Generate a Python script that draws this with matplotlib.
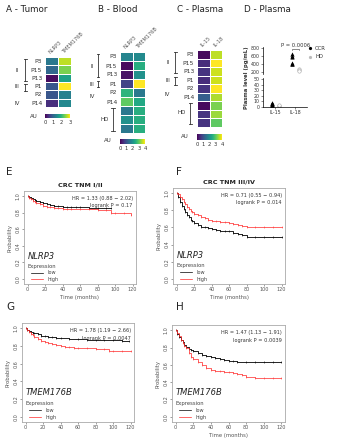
import numpy as np
import matplotlib
matplotlib.use("Agg")
import matplotlib.pyplot as plt
from matplotlib.lines import Line2D

# ---------------- DATA ----------------
rows_A = ["P3", "P15", "P13", "P1", "P2", "P14"]
cols_A = ["NLRP3", "TMEM176B"]
nlrp3_A = [1.2, 1.0, 0.1, 0.8, 0.8, 0.4]
tmem_A = [2.7, 2.4, 1.7, 3.0, 1.3, 1.4]

rows_B = ["P3", "P15", "P13", "P1", "P2", "P14", "", "", ""]
cols_B = ["NLRP3", "TMEM176B"]
nlrp3_B = [1.8, 0.1, 0.2, 0.8, 2.6, 3.0, 1.6, 2.0, 1.6]
tmem_B = [1.9, 2.5, 2.0, 4.0, 1.6, 2.4, 2.5, 2.5, 2.5]

rows_C = ["P3", "P15", "P13", "P1", "P2", "P14", "", "", ""]
cols_C = ["IL-15", "IL-18"]
il15_C = [0.1, 0.5, 0.6, 0.5, 0.6, 1.2, 0.1, 0.6, 0.6]
il18_C = [3.6, 4.0, 3.7, 3.7, 4.0, 3.5, 3.2, 3.4, 3.0]

d_ccr_il15 = [3, 4, 5, 6, 7, 8]
d_hd_il15 = [1, 2, 3]
d_ccr_il18 = [640, 600, 580, 430, 410, 400]
d_hd_il18 = [280, 250, 230]

E_low_t = [0, 2, 4, 6, 8, 10, 14, 18, 22, 26, 30, 35, 40, 45, 50, 55, 60, 70, 80, 90, 95]
E_low_s = [1.0, 0.985, 0.97, 0.96, 0.95, 0.94, 0.925, 0.91, 0.9, 0.89, 0.882, 0.875, 0.87, 0.867, 0.865, 0.863, 0.862, 0.86, 0.86, 0.86, 0.86]
E_high_t = [0, 2, 4, 6, 8, 10, 14, 18, 22, 26, 30, 35, 40, 45, 50, 60, 70, 80, 90, 95, 100, 110, 118]
E_high_s = [1.0, 0.98, 0.96, 0.945, 0.93, 0.92, 0.9, 0.885, 0.872, 0.862, 0.856, 0.85, 0.847, 0.845, 0.842, 0.84, 0.838, 0.835, 0.833, 0.79, 0.79, 0.79, 0.765]

F_low_t = [0, 2, 4, 6, 8, 10, 12, 14, 16, 18, 20, 24, 28, 32, 36, 40, 45, 50, 55, 60, 65, 70, 75, 80, 90, 100, 110, 120]
F_low_s = [1.0, 0.96, 0.9, 0.85, 0.81, 0.78, 0.75, 0.72, 0.69, 0.67, 0.655, 0.63, 0.61, 0.6, 0.59, 0.58, 0.57, 0.56, 0.558, 0.556, 0.54, 0.527, 0.51, 0.49, 0.49, 0.49, 0.49, 0.49]
F_high_t = [0, 2, 4, 6, 8, 10, 12, 14, 16, 18, 20, 24, 28, 32, 36, 40, 45, 50, 55, 60, 65, 70, 75, 80, 90, 100, 110, 120]
F_high_s = [1.0, 0.99, 0.96, 0.93, 0.9, 0.87, 0.84, 0.81, 0.79, 0.775, 0.76, 0.74, 0.72, 0.705, 0.69, 0.68, 0.672, 0.665, 0.66, 0.655, 0.645, 0.63, 0.62, 0.607, 0.6, 0.6, 0.6, 0.6]

G_low_t = [0, 2, 4, 6, 8, 10, 14, 18, 22, 26, 30, 35, 40, 50, 60, 70, 80, 90, 100, 110, 118]
G_low_s = [1.0, 0.985, 0.97, 0.96, 0.95, 0.943, 0.93, 0.918, 0.91, 0.903, 0.897, 0.892, 0.887, 0.88, 0.875, 0.871, 0.868, 0.866, 0.864, 0.862, 0.86]
G_high_t = [0, 2, 4, 6, 8, 10, 14, 18, 22, 26, 30, 35, 40, 45, 50, 55, 60, 70, 80, 90, 95, 100, 110, 120]
G_high_s = [1.0, 0.98, 0.96, 0.94, 0.92, 0.906, 0.88, 0.858, 0.845, 0.832, 0.82, 0.81, 0.8, 0.792, 0.785, 0.78, 0.777, 0.772, 0.77, 0.766, 0.747, 0.747, 0.747, 0.747]

H_low_t = [0, 2, 4, 6, 8, 10, 12, 15, 18, 20, 25, 30, 35, 40, 45, 50, 55, 60, 65, 70, 80, 90, 100, 110, 120]
H_low_s = [1.0, 0.96, 0.92, 0.89, 0.86, 0.833, 0.81, 0.785, 0.77, 0.76, 0.735, 0.715, 0.698, 0.685, 0.675, 0.667, 0.657, 0.648, 0.64, 0.633, 0.632, 0.631, 0.63, 0.63, 0.63]
H_high_t = [0, 2, 4, 6, 8, 10, 12, 15, 18, 20, 25, 30, 35, 40, 45, 50, 55, 60, 65, 70, 75, 80, 90, 100, 110, 120]
H_high_s = [1.0, 0.97, 0.93, 0.89, 0.85, 0.815, 0.79, 0.74, 0.69, 0.667, 0.63, 0.593, 0.56, 0.537, 0.53, 0.526, 0.523, 0.52, 0.51, 0.5, 0.48, 0.456, 0.444, 0.444, 0.444, 0.444]

km_text = {
    "E": ("HR = 1.33 (0.88 \u2212 2.02)", "logrank P = 0.17", "NLRP3", "CRC TNM I/II"),
    "F": ("HR = 0.71 (0.55 \u2212 0.94)", "logrank P = 0.014", "NLRP3", "CRC TNM III/IV"),
    "G": ("HR = 1.78 (1.19 \u2212 2.66)", "logrank P = 0.0047", "TMEM176B", ""),
    "H": ("HR = 1.47 (1.13 \u2212 1.91)", "logrank P = 0.0039", "TMEM176B", ""),
}

# ---------------- LAYOUT ----------------
W, H = 339, 440
fig = plt.figure(figsize=(W / 100, H / 100), dpi=100)
fig.patch.set_facecolor("white")
plt.rcParams["font.family"] = ["DejaVu Sans"]
GREY = "#333333"


def box(x0, y0, x1, y1):
    return fig.add_axes([x0 / W, 1 - y1 / H, (x1 - x0) / W, (y1 - y0) / H])


def ftext(x, y, s, **kw):
    fig.text(x / W, 1 - y / H, s, **kw)


def fline(xs, ys, **kw):
    fig.add_artist(Line2D([x / W for x in xs], [1 - y / H for y in ys],
                          transform=fig.transFigure, **kw))


def bracket(x, y0, y1, lw=0.6):
    fline([x, x], [y0, y1], color=GREY, lw=lw)
    fline([x - 1.5, x + 1.5], [y0, y0], color=GREY, lw=lw)
    fline([x - 1.5, x + 1.5], [y1, y1], color=GREY, lw=lw)


def heat(bx, rows, cols, vals, vmax, cbox, ticks):
    ax = box(*bx)
    data = np.array(vals).T
    m = ax.pcolormesh(data, cmap="viridis", vmin=0, vmax=vmax,
                      edgecolors="white", linewidth=0.6)
    ax.set_xlim(0, len(cols))
    ax.set_ylim(len(rows), 0)
    ax.set_yticks(np.arange(len(rows)) + 0.5)
    ax.set_yticklabels(rows, fontsize=4.3, color=GREY)
    ax.xaxis.tick_top()
    ax.set_xticks(np.arange(len(cols)) + 0.5)
    ax.set_xticklabels(cols, fontsize=3.6, color="#555555", rotation=45,
                       ha="left", rotation_mode="anchor")
    ax.tick_params(length=0, pad=2)
    for s in ax.spines.values():
        s.set_visible(False)
    cax = box(*cbox)
    cb = fig.colorbar(m, cax=cax, orientation="horizontal", ticks=ticks)
    cb.outline.set_visible(False)
    cax.tick_params(labelsize=3.8, length=0, pad=1.5, colors=GREY)
    return ax


# Titles
ftext(6, 9, "A - Tumor", fontsize=6.3, color="#222222", va="center")
ftext(98, 9, "B - Blood", fontsize=6.3, color="#222222", va="center")
ftext(177, 9, "C - Plasma", fontsize=6.3, color="#222222", va="center")
ftext(244, 9, "D - Plasma", fontsize=6.3, color="#222222", va="center")

# Panel A
heat((45, 57, 71, 107), rows_A, cols_A, [nlrp3_A, tmem_A], 3,
     (45, 114, 70, 118), [0, 1, 2, 3])
ftext(38, 116, "AU", fontsize=4, color=GREY, ha="right", va="center")
bracket(25, 59, 81)
ftext(19, 70, "II", fontsize=4, color=GREY, ha="right", va="center")
bracket(25, 84, 91)
ftext(19, 87, "III", fontsize=4, color=GREY, ha="right", va="center")
ftext(20, 103, "IV", fontsize=4, color=GREY, ha="right", va="center")

# Panel B
heat((120, 52, 145, 133), rows_B, cols_B, [nlrp3_B, tmem_B], 4,
     (120, 139, 145, 144), [0, 1, 2, 3, 4])
ftext(112, 141, "AU", fontsize=4, color=GREY, ha="right", va="center")
bracket(98, 54, 77)
ftext(94, 66, "II", fontsize=4, color=GREY, ha="right", va="center")
bracket(98, 81, 87)
ftext(94, 84, "III", fontsize=4, color=GREY, ha="right", va="center")
ftext(95, 97, "IV", fontsize=4, color=GREY, ha="right", va="center")
bracket(113, 108, 131)
ftext(109, 119, "HD", fontsize=4, color=GREY, ha="right", va="center")

# Panel C
heat((197, 50, 222, 127), rows_C, cols_C, [il15_C, il18_C], 4,
     (197, 134, 222, 140), [0, 1, 2, 3, 4])
ftext(189, 137, "AU", fontsize=4, color=GREY, ha="right", va="center")
bracket(175, 52, 73)
ftext(170, 63, "II", fontsize=4, color=GREY, ha="right", va="center")
bracket(175, 77, 85)
ftext(170, 81, "III", fontsize=4, color=GREY, ha="right", va="center")
ftext(170, 94, "IV", fontsize=4, color=GREY, ha="right", va="center")
bracket(190, 103, 124)
ftext(186, 113, "HD", fontsize=4, color=GREY, ha="right", va="center")

# Panel D (broken axis)
axu = box(263, 47, 307, 74)
axl = box(263, 78, 307, 107)
xc = [0, 1]
for ax in (axu, axl):
    ax.set_xlim(-0.6, 1.6)
    for s in ("top", "right"):
        ax.spines[s].set_visible(False)
    ax.spines["left"].set_linewidth(0.5)
    ax.spines["bottom"].set_linewidth(0.5)
    ax.tick_params(labelsize=3.4, length=1.5, width=0.4, pad=0.8, colors=GREY)
    ax.set_facecolor("none")
axu.spines["bottom"].set_visible(False)
axu.set_xticks([])
axu.set_ylim(150, 820)
axu.set_yticks([200, 400, 600, 800])
axl.set_ylim(0, 52)
axl.set_yticks([0, 10, 20, 30, 40, 50])
axl.set_xticks(xc)
axl.set_xticklabels(["IL-15", "IL-18"])
for ax in (axu, axl):
    ax.scatter(np.full(len(d_ccr_il15), xc[0] - 0.15), d_ccr_il15, marker="^", s=9,
               color="black", lw=0, clip_on=True)
    ax.scatter(np.full(len(d_hd_il15), xc[0] + 0.22), d_hd_il15, marker="o", s=6,
               facecolor="white", edgecolor="#aaaaaa", lw=0.4, clip_on=True)
    ax.scatter(np.full(len(d_ccr_il18), xc[1] - 0.15), d_ccr_il18, marker="^", s=9,
               color="black", lw=0, clip_on=True)
    ax.scatter(np.full(len(d_hd_il18), xc[1] + 0.22), d_hd_il18, marker="o", s=6,
               facecolor="white", edgecolor="#aaaaaa", lw=0.4, clip_on=True)
axl.set_ylim(0, 52)
axu.set_ylim(150, 820)
axu.plot([0.85, 0.85, 1.22, 1.22], [740, 770, 770, 740], color=GREY, lw=0.4, clip_on=False)
axu.text(1.03, 800, "P = 0.0006", fontsize=3.8, color=GREY, ha="center", va="bottom")
ftext(247, 78, "Plasma level (pg/mL)", fontsize=3.8, color=GREY, rotation=90,
      ha="center", va="center", fontweight="bold")
fig.add_artist(Line2D([310 / W], [1 - 48 / H], marker="o", ms=1.3, color="black",
                      transform=fig.transFigure))
ftext(315, 48, "CCR", fontsize=3.8, color=GREY, va="center")
fig.add_artist(Line2D([310 / W], [1 - 57 / H], marker="o", ms=1.3, color="#bbbbbb",
                      transform=fig.transFigure))
ftext(315, 57, "HD", fontsize=3.8, color=GREY, va="center")


# KM panels
def km(bx, key, lt, ls, ht, hs, xlabel=True):
    ax = box(*bx)
    hr, lp, gene, title = km_text[key]
    ax.step(lt, ls, where="post", color="black", lw=0.6, marker="|", ms=1.6, mew=0.4)
    ax.step(ht, hs, where="post", color="#ff2a2a", lw=0.6, marker="|", ms=1.6, mew=0.4,
            alpha=0.85)
    ax.set_xlim(-4, 124)
    ax.set_ylim(-0.06, 1.06)
    ax.set_xticks([0, 20, 40, 60, 80, 100, 120])
    ax.set_yticks([0.0, 0.2, 0.4, 0.6, 0.8, 1.0])
    ax.set_yticklabels(["0.0", "0.2", "0.4", "0.6", "0.8", "1.0"], rotation=90, va="center")
    ax.tick_params(labelsize=3.5, length=1.5, width=0.4, pad=1, colors="#555555")
    for s in ax.spines.values():
        s.set_color("#aaaaaa")
        s.set_linewidth(0.6)
    ax.set_ylabel("Probability", fontsize=3.8, color="#555555", labelpad=2)
    if xlabel:
        ax.set_xlabel("Time (months)", fontsize=3.8, color="#555555", labelpad=1.5)
    if title:
        ax.set_title(title, fontsize=4.6, fontweight="bold", color="#222222", pad=3)
    ax.text(0.97, 0.95, hr, transform=ax.transAxes, fontsize=3.6, color="#333333",
            ha="right", va="top")
    ax.text(0.97, 0.87, lp, transform=ax.transAxes, fontsize=3.6, color="#333333",
            ha="right", va="top")
    ax.text(0.03, 0.30, gene, transform=ax.transAxes, fontsize=6, style="italic",
            color="#222222", ha="left", va="center")
    ax.text(0.03, 0.19, "Expression", transform=ax.transAxes, fontsize=3.8,
            color="#444444", ha="left", va="center")
    ax.plot([0.06, 0.17], [0.12, 0.12], transform=ax.transAxes, color="black", lw=0.5)
    ax.text(0.21, 0.12, "low", transform=ax.transAxes, fontsize=3.6, color="#444444",
            va="center")
    ax.plot([0.06, 0.17], [0.05, 0.05], transform=ax.transAxes, color="#ff2a2a", lw=0.5)
    ax.text(0.21, 0.05, "high", transform=ax.transAxes, fontsize=3.6, color="#444444",
            va="center")
    return ax


km((24, 191, 136, 284), "E", E_low_t, E_low_s, E_high_t, E_high_s)
km((173, 188, 285, 284), "F", F_low_t, F_low_s, F_high_t, F_high_s)
km((22, 323, 134, 422), "G", G_low_t, G_low_s, G_high_t, G_high_s, xlabel=False)
km((172, 325, 285, 422), "H", H_low_t, H_low_s, H_high_t, H_high_s)

ftext(6, 172, "E", fontsize=7.5, color="#222222", va="center")
ftext(176, 172, "F", fontsize=7.5, color="#222222", va="center")
ftext(6, 307, "G", fontsize=7.5, color="#222222", va="center")
ftext(176, 307, "H", fontsize=7.5, color="#222222", va="center")

fig.savefig("out.png", dpi=100)
